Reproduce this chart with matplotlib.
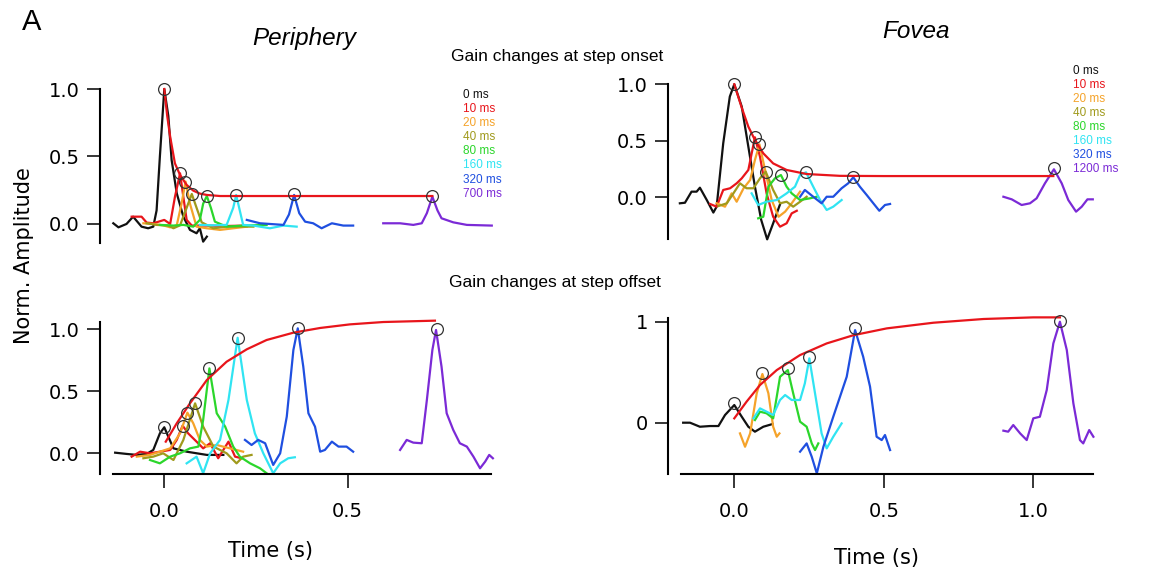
import matplotlib
matplotlib.use('Agg')
from matplotlib import pyplot as plt

W, H = 1168, 573

delays_periphery = ['0 ms', '10 ms', '20 ms', '40 ms', '80 ms', '160 ms', '320 ms', '700 ms']
delays_fovea = ['0 ms', '10 ms', '20 ms', '40 ms', '80 ms', '160 ms', '320 ms', '1200 ms']
trace_colors = ['#111111', '#e8151b', '#f5a32a', '#a09a1c', '#2bd62b',
                '#30e4f2', '#1f4fe0', '#7b2ad6']
fit_color = '#e8151b'

# periphery, gain change at step onset (time s, norm. amplitude)
po_t0 = [-0.139, -0.125, -0.103, -0.085, -0.062, -0.044, -0.030, -0.021, -0.012, 0.0,
         0.011, 0.020, 0.034, 0.052, 0.070, 0.088, 0.097, 0.106, 0.116]
po_v0 = [0.005, -0.025, 0.0, 0.054, -0.020, -0.032, -0.020, 0.10, 0.50, 1.0,
         0.80, 0.474, 0.227, 0.054, -0.044, -0.069, -0.032, -0.131, -0.094]
po_t10 = [-0.089, -0.062, -0.048, -0.030, -0.012, 0.0, 0.016, 0.029, 0.043, 0.052,
          0.061, 0.075, 0.116, 0.170, 0.225]
po_v10 = [0.054, 0.054, 0.010, 0.005, 0.020, 0.030, 0.0, 0.20, 0.375, 0.20,
          0.03, -0.012, -0.012, -0.015, -0.012]
po_t20 = [-0.057, -0.030, -0.003, 0.016, 0.034, 0.047, 0.058, 0.070, 0.088, 0.116,
          0.152, 0.188, 0.225]
po_v20 = [0.005, 0.0, -0.010, -0.025, -0.010, 0.15, 0.314, 0.15, -0.020, -0.032,
          -0.044, -0.032, -0.020]
po_t40 = [-0.048, -0.021, 0.011, 0.025, 0.043, 0.061, 0.075, 0.088, 0.102, 0.134,
          0.170, 0.243]
po_v40 = [0.005, -0.007, -0.012, -0.032, -0.010, 0.12, 0.222, 0.12, 0.012, -0.032,
          -0.020, -0.020]
po_t80 = [-0.012, 0.025, 0.052, 0.079, 0.097, 0.106, 0.116, 0.127, 0.138, 0.170,
          0.215, 0.279]
po_v80 = [-0.007, -0.012, -0.007, -0.020, 0.030, 0.15, 0.207, 0.12, 0.017, -0.020,
          -0.012, -0.007]
po_t160 = [0.097, 0.134, 0.170, 0.188, 0.196, 0.205, 0.215, 0.243, 0.288, 0.325, 0.361]
po_v160 = [-0.007, -0.010, -0.007, 0.12, 0.215, 0.11, -0.007, -0.012, -0.032, -0.012, -0.020]
po_t320 = [0.225, 0.261, 0.325, 0.340, 0.354, 0.368, 0.384, 0.406, 0.429, 0.457,
           0.488, 0.515]
po_v320 = [0.030, 0.005, -0.007, 0.07, 0.215, 0.08, 0.017, 0.005, -0.032, 0.005,
           -0.012, -0.012]
po_t700 = [0.597, 0.643, 0.679, 0.702, 0.716, 0.731, 0.745, 0.756, 0.788, 0.825, 0.893]
po_v700 = [0.005, 0.005, -0.007, 0.005, 0.08, 0.202, 0.10, 0.042, 0.012, -0.007, -0.012]
po_fit_t = [0.0, 0.008, 0.016, 0.029, 0.043, 0.061, 0.079, 0.097, 0.116, 0.152, 0.200, 0.731]
po_fit_v = [1.0, 0.80, 0.647, 0.449, 0.363, 0.289, 0.247, 0.225, 0.215, 0.207, 0.207, 0.207]
po_peak_t = [0.0, 0.043, 0.056, 0.075, 0.116, 0.196, 0.354, 0.731]
po_peak_v = [1.0, 0.375, 0.314, 0.222, 0.207, 0.215, 0.219, 0.209]

# fovea, gain change at step onset
fo_t0 = [-0.182, -0.165, -0.143, -0.126, -0.115, -0.092, -0.070, -0.059, -0.037, -0.015,
         0.0, 0.025, 0.047, 0.069, 0.090, 0.110, 0.130, 0.153]
fo_v0 = [-0.053, -0.048, 0.050, 0.050, 0.085, -0.024, -0.135, -0.082, 0.478, 0.891,
         1.0, 0.802, 0.448, 0.094, -0.200, -0.372, -0.230, -0.062]
fo_t10 = [-0.081, -0.059, -0.037, -0.014, 0.008, 0.025, 0.047, 0.069, 0.086, 0.108,
          0.130, 0.153, 0.175, 0.192, 0.209]
fo_v10 = [-0.059, -0.083, 0.065, 0.080, 0.124, 0.168, 0.242, 0.531, 0.359, 0.035,
          -0.172, -0.260, -0.230, -0.142, -0.119]
fo_t20 = [-0.059, -0.031, -0.009, 0.008, 0.031, 0.053, 0.069, 0.084, 0.103, 0.125,
          0.148, 0.170, 0.192, 0.220]
fo_v20 = [-0.053, -0.083, 0.035, -0.039, 0.080, 0.153, 0.330, 0.469, 0.242, -0.024,
          -0.172, -0.127, -0.053, 0.050]
fo_t40 = [-0.053, -0.025, -0.003, 0.019, 0.041, 0.064, 0.086, 0.105, 0.130, 0.153,
          0.175, 0.197, 0.220, 0.242]
fo_v40 = [-0.077, -0.053, 0.035, 0.124, 0.080, 0.080, 0.168, 0.227, 0.065, -0.053,
          -0.039, -0.083, -0.039, 0.005]
fo_t80 = [0.080, 0.097, 0.114, 0.136, 0.156, 0.175, 0.192, 0.220, 0.253, 0.276]
fo_v80 = [-0.186, -0.172, 0.094, 0.168, 0.197, 0.094, 0.035, -0.024, -0.009, 0.005]
fo_t160 = [0.058, 0.080, 0.108, 0.142, 0.175, 0.203, 0.220, 0.240, 0.264, 0.287,
           0.309, 0.331, 0.359]
fo_v160 = [0.035, -0.068, -0.039, -0.024, 0.035, 0.094, 0.197, 0.221, 0.094, -0.024,
           -0.112, -0.083, -0.024]
fo_t320 = [0.220, 0.236, 0.264, 0.292, 0.309, 0.331, 0.359, 0.381, 0.398, 0.420,
           0.443, 0.465, 0.485, 0.504, 0.521]
fo_v320 = [0.005, 0.065, 0.005, -0.053, 0.005, 0.005, 0.080, 0.124, 0.177, 0.094,
           0.020, -0.053, -0.119, -0.068, -0.059]
fo_t1200 = [0.900, 0.928, 0.961, 0.989, 1.011, 1.039, 1.069, 1.095, 1.117, 1.143,
            1.162, 1.181, 1.199]
fo_v1200 = [0.005, -0.018, -0.068, -0.053, -0.009, 0.124, 0.248, 0.124, -0.024, -0.127,
            -0.083, -0.018, -0.018]
fo_fit_t = [0.0, 0.024, 0.047, 0.069, 0.097, 0.130, 0.175, 0.242, 0.353, 0.500, 1.067]
fo_fit_v = [1.0, 0.80, 0.625, 0.507, 0.389, 0.300, 0.242, 0.206, 0.190, 0.188, 0.188]
fo_peak_t = [0.0, 0.069, 0.084, 0.105, 0.156, 0.240, 0.398, 1.069]
fo_peak_v = [1.0, 0.531, 0.469, 0.227, 0.197, 0.221, 0.177, 0.257]

# periphery, gain change at step offset
pf_t0 = [-0.134, -0.103, -0.075, -0.048, -0.030, -0.012, 0.0, 0.011, 0.025, 0.061,
         0.116, 0.161]
pf_v0 = [0.005, -0.005, -0.013, -0.005, 0.027, 0.161, 0.21, 0.134, 0.040, 0.013,
         -0.013, -0.013]
pf_t10 = [-0.089, -0.066, -0.039, -0.012, 0.016, 0.034, 0.050, 0.065, 0.088, 0.106,
          0.125, 0.147, 0.175, 0.193, 0.211]
pf_v10 = [-0.027, 0.013, 0.0, 0.013, 0.027, 0.108, 0.223, 0.161, 0.094, 0.040,
          0.081, -0.040, 0.094, -0.027, -0.040]
pf_t20 = [-0.075, -0.039, -0.012, 0.016, 0.043, 0.063, 0.079, 0.097, 0.116, 0.143,
          0.179, 0.215]
pf_v20 = [-0.027, -0.013, 0.013, 0.040, 0.161, 0.328, 0.242, 0.108, 0.054, 0.067,
          0.040, 0.013]
pf_t40 = [-0.057, -0.030, -0.003, 0.025, 0.052, 0.084, 0.106, 0.134, 0.170, 0.197,
          0.215, 0.238]
pf_v40 = [-0.040, -0.027, 0.0, -0.054, 0.108, 0.403, 0.215, 0.054, 0.0, -0.081,
          -0.027, -0.013]
pf_t80 = [-0.039, -0.012, 0.016, 0.043, 0.070, 0.093, 0.106, 0.123, 0.143, 0.166,
          0.188, 0.206, 0.234, 0.261, 0.279]
pf_v80 = [-0.054, -0.081, -0.027, 0.0, 0.040, 0.054, 0.269, 0.685, 0.323, 0.215,
          0.054, -0.027, -0.081, -0.121, -0.161]
pf_t160 = [0.061, 0.088, 0.106, 0.125, 0.152, 0.175, 0.200, 0.225, 0.247, 0.270,
           0.297, 0.316, 0.338, 0.356]
pf_v160 = [-0.081, -0.027, -0.161, 0.0, 0.108, 0.430, 0.932, 0.430, 0.161, 0.0,
           -0.161, -0.081, -0.040, -0.032]
pf_t320 = [0.220, 0.238, 0.256, 0.275, 0.297, 0.316, 0.334, 0.352, 0.364, 0.379,
           0.393, 0.411, 0.425, 0.438, 0.457, 0.475, 0.497, 0.515]
pf_v320 = [0.108, 0.067, 0.108, 0.081, -0.094, 0.0, 0.296, 0.833, 1.008, 0.699,
           0.323, 0.215, 0.013, 0.027, 0.094, 0.054, 0.054, 0.013]
pf_t700 = [0.643, 0.661, 0.679, 0.702, 0.716, 0.731, 0.741, 0.756, 0.770, 0.788,
           0.806, 0.825, 0.843, 0.861, 0.875, 0.886, 0.896]
pf_v700 = [0.027, 0.108, 0.086, 0.081, 0.430, 0.833, 0.995, 0.699, 0.323, 0.188,
           0.081, 0.054, -0.027, -0.121, -0.067, -0.013, -0.040]
pf_fit_t = [0.004, 0.034, 0.070, 0.116, 0.170, 0.225, 0.279, 0.352, 0.425, 0.506, 0.597, 0.738]
pf_fit_v = [0.094, 0.242, 0.403, 0.591, 0.739, 0.839, 0.914, 0.973, 1.011, 1.040, 1.059, 1.070]
pf_peak_t = [0.0, 0.050, 0.063, 0.084, 0.123, 0.200, 0.364, 0.743]
pf_peak_v = [0.215, 0.223, 0.328, 0.403, 0.685, 0.932, 1.013, 1.0]

# fovea, gain change at step offset (no 10 ms / 40 ms traces)
ff_t0 = [-0.171, -0.148, -0.115, -0.081, -0.053, -0.031, 0.0, 0.025, 0.047, 0.069,
         0.097, 0.128]
ff_v0 = [0.0, 0.0, -0.040, -0.033, -0.033, 0.076, 0.175, 0.059, -0.040, -0.089,
         -0.040, -0.013]
ff_t20 = [0.019, 0.036, 0.053, 0.075, 0.094, 0.114, 0.130, 0.142, 0.151]
ff_v20 = [-0.106, -0.238, -0.106, 0.291, 0.482, 0.291, -0.040, -0.139, -0.106]
ff_t80 = [0.069, 0.086, 0.108, 0.130, 0.153, 0.179, 0.197, 0.220, 0.242, 0.259,
          0.270, 0.281]
ff_v80 = [0.026, 0.109, 0.093, 0.043, 0.455, 0.521, 0.291, 0.010, -0.040, -0.205,
          -0.271, -0.205]
ff_t160 = [0.064, 0.086, 0.108, 0.130, 0.153, 0.170, 0.192, 0.220, 0.236, 0.251,
           0.270, 0.292, 0.309, 0.331, 0.359]
ff_v160 = [0.043, 0.142, 0.109, 0.076, 0.225, 0.274, 0.225, 0.225, 0.390, 0.637,
           0.291, -0.106, -0.254, -0.139, -0.007]
ff_t320 = [0.220, 0.242, 0.259, 0.276, 0.298, 0.331, 0.376, 0.404, 0.431, 0.454,
           0.476, 0.493, 0.504, 0.521]
ff_v320 = [-0.287, -0.205, -0.337, -0.502, -0.238, 0.059, 0.455, 0.917, 0.654, 0.357,
           -0.139, -0.172, -0.122, -0.271]
ff_t1200 = [0.900, 0.916, 0.933, 0.956, 0.978, 1.0, 1.022, 1.045, 1.067, 1.089,
            1.112, 1.134, 1.156, 1.167, 1.187, 1.201]
ff_v1200 = [-0.079, -0.089, -0.023, -0.106, -0.172, 0.043, 0.059, 0.324, 0.785, 1.0,
            0.720, 0.192, -0.172, -0.205, -0.073, -0.139]
ff_fit_t = [0.0, 0.041, 0.086, 0.142, 0.220, 0.309, 0.398, 0.510, 0.666, 0.834, 1.0, 1.089]
ff_fit_v = [0.043, 0.208, 0.373, 0.521, 0.670, 0.785, 0.866, 0.934, 0.990, 1.027, 1.043, 1.043]
ff_peak_t = [0.0, 0.094, 0.179, 0.251, 0.404, 1.089]
ff_peak_v = [0.192, 0.495, 0.538, 0.654, 0.934, 1.007]


def px_axes(fig, left, top, right, bottom):
    # place an axes box given in figure pixels
    return fig.add_axes([left / W, 1 - bottom / H, (right - left) / W, (bottom - top) / H])


def fig_text(fig, x, y, s, **kw):
    fig.text(x / W, 1 - y / H, s, **kw)


def style_axes(ax, xlim, ylim, ybounds, yticks, ylabels, xbounds=None, xticks=None):
    ax.set_xlim(*xlim)
    ax.set_ylim(*ylim)
    ax.patch.set_visible(False)
    for side in ['top', 'right']:
        ax.spines[side].set_visible(False)
    ax.spines['left'].set_linewidth(1.5)
    ax.spines['left'].set_bounds(*ybounds)
    ax.set_yticks(yticks)
    ax.set_yticklabels(ylabels)
    ax.tick_params(axis='y', direction='out', length=9.5, width=1.1,
                   labelsize=14, pad=5)
    if xbounds is None:
        ax.spines['bottom'].set_visible(False)
        ax.set_xticks([])
    else:
        ax.spines['bottom'].set_linewidth(1.5)
        ax.spines['bottom'].set_bounds(*xbounds)
        ax.set_xticks(xticks)
        ax.set_xticklabels(['%.1f' % x for x in xticks])
        ax.tick_params(axis='x', direction='out', length=10, width=1.1,
                       labelsize=14, pad=10)


def draw_panel(ax, traces, fit_t, fit_v, peak_t, peak_v):
    for trace, color in zip(traces, trace_colors):
        if trace is None:
            continue
        ax.plot(trace[0], trace[1], color=color, lw=1.6, solid_joinstyle='round',
                clip_on=False)
    ax.plot(fit_t, fit_v, color=fit_color, lw=1.6, clip_on=False)
    ax.plot(peak_t, peak_v, 'o', mfc='none', mec='#333333', ms=8.5, mew=0.9,
            clip_on=False)


def main():
    plt.rcParams['font.family'] = ['DejaVu Sans']
    fig = plt.figure(figsize=(W / 100, H / 100), dpi=100)

    # periphery, onset
    ax1 = px_axes(fig, 100, 60, 540, 250)
    style_axes(ax1, (-0.1753, 1.0245), (-0.193, 1.215), (-0.141, 1.0),
               [0, 0.5, 1.0], ['0.0', '0.5', '1.0'])
    draw_panel(ax1, [(po_t0, po_v0), (po_t10, po_v10), (po_t20, po_v20),
                     (po_t40, po_v40), (po_t80, po_v80), (po_t160, po_v160),
                     (po_t320, po_v320), (po_t700, po_v700)],
               po_fit_t, po_fit_v, po_peak_t, po_peak_v)

    # fovea, onset
    ax2 = px_axes(fig, 668, 60, 1168, 245)
    style_axes(ax2, (-0.2217, 1.4505), (-0.422, 1.215), (-0.372, 1.0),
               [0, 0.5, 1.0], ['0.0', '0.5', '1.0'])
    draw_panel(ax2, [(fo_t0, fo_v0), (fo_t10, fo_v10), (fo_t20, fo_v20),
                     (fo_t40, fo_v40), (fo_t80, fo_v80), (fo_t160, fo_v160),
                     (fo_t320, fo_v320), (fo_t1200, fo_v1200)],
               fo_fit_t, fo_fit_v, fo_peak_t, fo_peak_v)

    # periphery, offset
    ax3 = px_axes(fig, 100, 310, 540, 474)
    style_axes(ax3, (-0.1753, 1.0245), (-0.167, 1.156), (-0.167, 1.059),
               [0, 0.5, 1.0], ['0.0', '0.5', '1.0'],
               xbounds=(-0.139, 0.891), xticks=[0.0, 0.5])
    draw_panel(ax3, [(pf_t0, pf_v0), (pf_t10, pf_v10), (pf_t20, pf_v20),
                     (pf_t40, pf_v40), (pf_t80, pf_v80), (pf_t160, pf_v160),
                     (pf_t320, pf_v320), (pf_t700, pf_v700)],
               pf_fit_t, pf_fit_v, pf_peak_t, pf_peak_v)

    # fovea, offset
    ax4 = px_axes(fig, 668, 310, 1168, 474)
    style_axes(ax4, (-0.2217, 1.4505), (-0.508, 1.116), (-0.508, 1.037),
               [0, 1], ['0', '1'],
               xbounds=(-0.178, 1.201), xticks=[0.0, 0.5, 1.0])
    draw_panel(ax4, [(ff_t0, ff_v0), None, (ff_t20, ff_v20), None,
                     (ff_t80, ff_v80), (ff_t160, ff_v160), (ff_t320, ff_v320),
                     (ff_t1200, ff_v1200)],
               ff_fit_t, ff_fit_v, ff_peak_t, ff_peak_v)

    # delay legends
    for i, (lab, color) in enumerate(zip(delays_periphery, trace_colors)):
        fig_text(fig, 463, 95 + 14.1 * i, lab, color=color, fontsize=8.5,
                 family='Liberation Sans', va='center', ha='left')
    for i, (lab, color) in enumerate(zip(delays_fovea, trace_colors)):
        fig_text(fig, 1073, 71 + 14.0 * i, lab, color=color, fontsize=8.5,
                 family='Liberation Sans', va='center', ha='left')

    fig_text(fig, 32, 22, 'A', fontsize=21, family='Liberation Sans',
             ha='center', va='center')
    fig_text(fig, 304, 38, 'Periphery', fontsize=17.5, style='italic',
             family='Liberation Sans', ha='center', va='center')
    fig_text(fig, 916, 32, 'Fovea', fontsize=17.5, style='italic',
             family='Liberation Sans', ha='center', va='center')
    fig_text(fig, 557, 56, 'Gain changes at step onset', fontsize=12.5,
             family='Liberation Sans', ha='center', va='center')
    fig_text(fig, 555, 283, 'Gain changes at step offset', fontsize=12.5,
             family='Liberation Sans', ha='center', va='center')
    fig_text(fig, 24, 256, 'Norm. Amplitude', fontsize=15, rotation=90,
             ha='center', va='center')
    fig_text(fig, 271, 551, 'Time (s)', fontsize=15, ha='center', va='center')
    fig_text(fig, 877, 558, 'Time (s)', fontsize=15, ha='center', va='center')

    fig.savefig('out.png', dpi=100)


if __name__ == '__main__':
    main()
